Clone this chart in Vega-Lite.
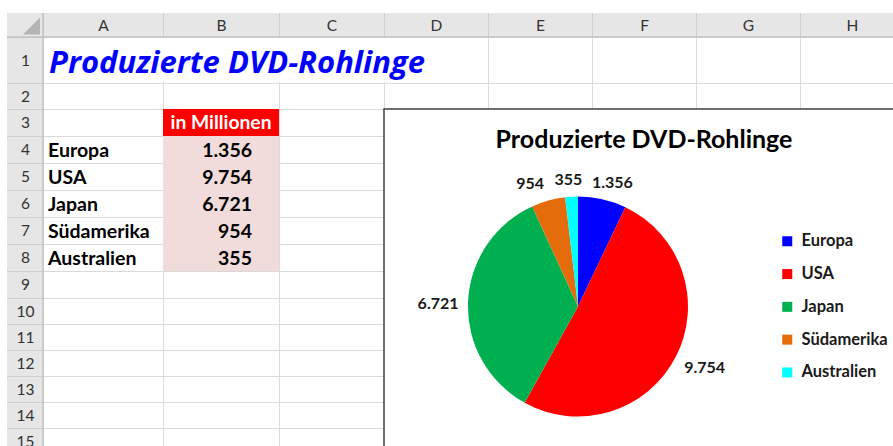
{
  "$schema": "https://vega.github.io/schema/vega-lite/v6.json",
  "width": 893,
  "height": 446,
  "autosize": "none",
  "padding": 0,
  "background": "white",
  "config": {
    "view": {"stroke": null},
    "font": "Lato",
    "axis": {"domain": false, "ticks": false, "labels": false, "grid": false},
    "locale": {"number": {"decimal": ",", "thousands": ".", "grouping": [3], "currency": ["", " €"]}}
  },
  "datasets": {
    "dvd": [
      {"region": "Europa", "value": 1356},
      {"region": "USA", "value": 9754},
      {"region": "Japan", "value": 6721},
      {"region": "Südamerika", "value": 954},
      {"region": "Australien", "value": 355}
    ]
  },
  "layer": [
    {
      "data": {"values": [{}]},
      "mark": {"type": "point", "opacity": 0},
      "encoding": {
        "x": {"datum": 1, "type": "quantitative",
          "scale": {"domain": [-0.5,0.5,1.5,2.5,3.5,4.5,5.5,6.5,7.5,8.5], "range": [7,43,163,279,384,488,592,696,800,904], "nice": false, "zero": false},
          "axis": {"orient": "bottom", "values": [0.5,1.5,2.5,3.5,4.5,5.5,6.5,7.5,8.5], "grid": true, "gridColor": "#dadada", "gridWidth": 1, "labels": false, "ticks": false, "domain": false, "title": null}}
      }
    },
    {
      "data": {"values": [{}]},
      "mark": {"type": "point", "opacity": 0},
      "encoding": {
        "y": {"datum": 1, "type": "quantitative",
          "scale": {"domain": [-0.5,0.5,1.5,2.5,3.5,4.5,5.5,6.5,7.5,8.5,9.5,10.5,11.5,12.5,13.5,14.5,15.5], "range": [13,37,83,109,136,163,190,217,244,271,298,324,350,376,402,428,454], "nice": false, "zero": false},
          "axis": {"orient": "right", "values": [0.5,1.5,2.5,3.5,4.5,5.5,6.5,7.5,8.5,9.5,10.5,11.5,12.5,13.5,14.5,15.5], "grid": true, "gridColor": "#dadada", "gridWidth": 1, "labels": false, "ticks": false, "domain": false, "title": null}}
      }
    },
    {
      "layer": [
        {
          "data": {"values": [{}]},
          "mark": {"type": "rect", "fill": "white"},
          "encoding": {
            "x": {"datum": -1, "type": "quantitative",
              "scale": {"domain": [-0.5,0.5,1.5,2.5,3.5,4.5,5.5,6.5,7.5,8.5], "range": [7,43,163,279,384,488,592,696,800,904], "nice": false, "zero": false}, "axis": null},
            "x2": {"datum": 10},
            "y": {"datum": -1.5, "type": "quantitative",
              "scale": {"domain": [-0.5,0.5,1.5,2.5,3.5,4.5,5.5,6.5,7.5,8.5,9.5,10.5,11.5,12.5,13.5,14.5,15.5], "range": [13,37,83,109,136,163,190,217,244,271,298,324,350,376,402,428,454], "nice": false, "zero": false}, "axis": null},
            "y2": {"datum": -0.5}
          }
        },
        {
          "data": {"values": [{}]},
          "mark": {"type": "rect", "fill": "white"},
          "encoding": {
            "x": {"datum": -1, "type": "quantitative", "axis": null}, "x2": {"datum": -0.5},
            "y": {"datum": -1.5, "type": "quantitative", "axis": null}, "y2": {"datum": 17}
          }
        },
        {
          "data": {"values": [{}]},
          "mark": {"type": "rect", "fill": "#c1c1c1", "fillOpacity": 0.4},
          "encoding": {
            "x": {"datum": -0.5, "type": "quantitative", "axis": null}, "x2": {"datum": 10},
            "y": {"datum": -0.5, "type": "quantitative", "axis": null}, "y2": {"datum": 0.5}
          }
        },
        {
          "data": {"values": [{}]},
          "mark": {"type": "rect", "fill": "#c1c1c1", "fillOpacity": 0.4},
          "encoding": {
            "x": {"datum": -0.5, "type": "quantitative", "axis": null}, "x2": {"datum": 0.5},
            "y": {"datum": 0.5, "type": "quantitative", "axis": null}, "y2": {"datum": 17}
          }
        },
        {
          "data": {"values": [{}]},
          "mark": {"type": "rect", "fill": "white"},
          "encoding": {
            "x": {"datum": 0.51, "type": "quantitative", "axis": null}, "x2": {"datum": 4.49},
            "y": {"datum": 0.52, "type": "quantitative", "axis": null}, "y2": {"datum": 1.48}
          }
        },
        {
          "data": {"values": [{}]},
          "mark": {"type": "rule", "color": "#b5b5b5", "strokeWidth": 1},
          "encoding": {
            "x": {"datum": -0.5, "type": "quantitative", "axis": null}, "x2": {"datum": 10},
            "y": {"datum": 0.5, "type": "quantitative", "axis": null}
          }
        },
        {
          "data": {"values": [{}]},
          "mark": {"type": "rule", "color": "#b5b5b5", "strokeWidth": 1},
          "encoding": {
            "x": {"datum": 0.5, "type": "quantitative", "axis": null},
            "y": {"datum": -0.5, "type": "quantitative", "axis": null}, "y2": {"datum": 17}
          }
        },
        {
          "data": {"values": [{}]},
          "mark": {"type": "point", "shape": "M1,-1L1,1L-1,1Z", "filled": true, "fill": "#b4b4b4", "opacity": 1, "size": 289, "strokeWidth": 0},
          "encoding": {
            "x": {"datum": 0.18, "type": "quantitative", "axis": null},
            "y": {"datum": 0.042, "type": "quantitative", "axis": null}
          }
        },
        {
          "data": {"values": [{}]},
          "mark": {"type": "text", "text": "Produzierte DVD-Rohlinge", "align": "left", "baseline": "alphabetic", "dx": 6, "font": "Open Sans", "fontSize": 31, "fontWeight": "bold", "fontStyle": "italic", "color": "#0000ff"},
          "encoding": {
            "x": {"datum": 0.5, "type": "quantitative", "axis": null},
            "y": {"datum": 1.289, "type": "quantitative", "axis": null}
          }
        },
        {
          "data": {"values": [{}]},
          "mark": {"type": "rect", "fill": "#ff0000"},
          "encoding": {
            "x": {"datum": 1.5, "type": "quantitative", "axis": null}, "x2": {"datum": 2.5},
            "y": {"datum": 2.5, "type": "quantitative", "axis": null}, "y2": {"datum": 3.5}
          }
        },
        {
          "data": {"values": [{}]},
          "mark": {"type": "text", "text": "in Millionen", "align": "center", "baseline": "middle", "font": "Lato", "fontSize": 19.3, "fontWeight": "bold", "color": "white"},
          "encoding": {
            "x": {"datum": 2, "type": "quantitative", "axis": null},
            "y": {"datum": 3, "type": "quantitative", "axis": null}
          }
        },
        {
          "data": {"values": [{}]},
          "mark": {"type": "rect", "fill": "white", "stroke": "#404040", "strokeWidth": 1.5},
          "encoding": {
            "x": {"datum": 3.5, "type": "quantitative", "axis": null}, "x2": {"datum": 10},
            "y": {"datum": 2.5, "type": "quantitative", "axis": null}, "y2": {"datum": 17}
          }
        },
        {
          "data": {"values": [{}]},
          "mark": {"type": "text", "text": "Produzierte DVD-Rohlinge", "align": "center", "baseline": "alphabetic", "font": "Lato", "fontSize": 25, "fontWeight": "bold", "color": "#000000"},
          "encoding": {
            "x": {"datum": 6, "type": "quantitative", "axis": null},
            "y": {"datum": 3.944, "type": "quantitative", "axis": null}
          }
        },
        {
          "data": {"name": "dvd"},
          "transform": [{"window": [{"op": "row_number", "as": "i"}]}],
          "mark": {"type": "arc", "radius": 110},
          "encoding": {
            "x": {"datum": 5.365, "type": "quantitative", "axis": null},
            "y": {"datum": 9.827, "type": "quantitative", "axis": null},
            "theta": {"field": "value", "type": "quantitative", "stack": true},
            "order": {"field": "i", "type": "quantitative"},
            "color": {"field": "region", "type": "nominal", "sort": null,
              "scale": {"range": ["#0000ff", "#ff0000", "#00b050", "#e46c0a", "#00ffff"]},
              "legend": {"orient": "none", "legendX": 779, "legendY": 233, "title": null, "symbolType": "square", "symbolSize": 100, "symbolStrokeWidth": 0, "symbolOpacity": 1, "labelFont": "Lato", "labelFontSize": 16.5, "labelFontWeight": "bold", "labelColor": "#1a1a1a", "labelOffset": 6, "rowPadding": 15.8}}
          }
        },
        {
          "data": {"name": "dvd"},
          "transform": [{"window": [{"op": "row_number", "as": "i"}]}],
          "mark": {"type": "text", "radius": 129, "align": "center", "baseline": "middle", "font": "Lato", "fontSize": 16, "fontWeight": "bold", "color": "#1a1a1a",
            "dx": {"expr": "datum.region == 'USA' ? 12 : datum.region == 'Japan' ? -11 : datum.region == 'Südamerika' ? -13 : datum.region == 'Europa' ? 6 : -2"}, "dy": 2},
          "encoding": {
            "x": {"datum": 5.365, "type": "quantitative", "axis": null},
            "y": {"datum": 9.827, "type": "quantitative", "axis": null},
            "theta": {"field": "value", "type": "quantitative", "stack": true},
            "order": {"field": "i", "type": "quantitative"},
            "text": {"field": "value", "type": "quantitative", "format": ",d"}
          }
        }
      ]
    },
    {
      "data": {"name": "dvd"},
      "encoding": {
        "y": {"field": "region", "type": "nominal", "sort": null, "title": null, "axis": null,
          "scale": {"type": "band", "range": [136, 271], "paddingInner": 0, "paddingOuter": 0}}
      },
      "layer": [
        {
          "mark": {"type": "rect", "fill": "#f2dcdb"},
          "encoding": {
            "x": {"datum": 1.5, "type": "quantitative", "axis": null,
              "scale": {"domain": [-0.5,0.5,1.5,2.5,3.5,4.5,5.5,6.5,7.5,8.5], "range": [7,43,163,279,384,488,592,696,800,904], "nice": false, "zero": false}},
            "x2": {"datum": 2.5}
          }
        },
        {
          "mark": {"type": "text", "align": "left", "baseline": "middle", "dx": 5, "dy": 1, "font": "Lato", "fontSize": 19.5, "fontWeight": "bold", "color": "#000000"},
          "encoding": {
            "x": {"datum": 0.5, "type": "quantitative", "axis": null},
            "text": {"field": "region", "type": "nominal"}
          }
        },
        {
          "mark": {"type": "text", "align": "right", "baseline": "middle", "dx": -27, "dy": 1, "font": "Lato", "fontSize": 19.5, "fontWeight": "bold", "color": "#000000"},
          "encoding": {
            "x": {"datum": 2.5, "type": "quantitative", "axis": null},
            "text": {"field": "value", "type": "quantitative", "format": ",d"}
          }
        }
      ]
    },
    {
      "data": {"values": [{}]},
      "mark": {"type": "point", "opacity": 0},
      "encoding": {
        "x": {"datum": 1, "type": "quantitative",
          "scale": {"domain": [-0.5,0.5,1.5,2.5,3.5,4.5,5.5,6.5,7.5,8.5], "range": [7,43,163,279,384,488,592,696,800,904], "nice": false, "zero": false},
          "axis": {"orient": "top", "values": [1,2,3,4,5,6,7,8], "labelExpr": "['A','B','C','D','E','F','G','H'][datum.value - 1]", "labels": true, "ticks": false, "tickSize": 0, "domain": false, "grid": false, "offset": -25, "labelPadding": 0, "labelBaseline": "middle", "labelAlign": "center", "labelAngle": 0, "labelFont": "Lato", "labelFontSize": 15.5, "labelColor": "#333333", "labelFlush": false, "labelOverlap": false, "labelBound": false, "title": null, "zindex": 1}},
        "y": {"datum": 1, "type": "quantitative",
          "scale": {"domain": [-0.5,0.5,1.5,2.5,3.5,4.5,5.5,6.5,7.5,8.5,9.5,10.5,11.5,12.5,13.5,14.5,15.5], "range": [13,37,83,109,136,163,190,217,244,271,298,324,350,376,402,428,454], "nice": false, "zero": false},
          "axis": {"orient": "left", "values": [1,2,3,4,5,6,7,8,9,10,11,12,13,14,15], "format": "d", "labels": true, "ticks": false, "tickSize": 0, "domain": false, "grid": false, "offset": -25, "labelPadding": 0, "labelBaseline": "middle", "labelAlign": "center", "labelFont": "Lato", "labelFontSize": 15.5, "labelColor": "#333333", "labelFlush": false, "labelOverlap": false, "labelBound": false, "title": null, "zindex": 1}}
      }
    }
  ],
  "resolve": {"scale": {"x": "independent", "y": "independent"}, "axis": {"x": "independent", "y": "independent"}}
}
